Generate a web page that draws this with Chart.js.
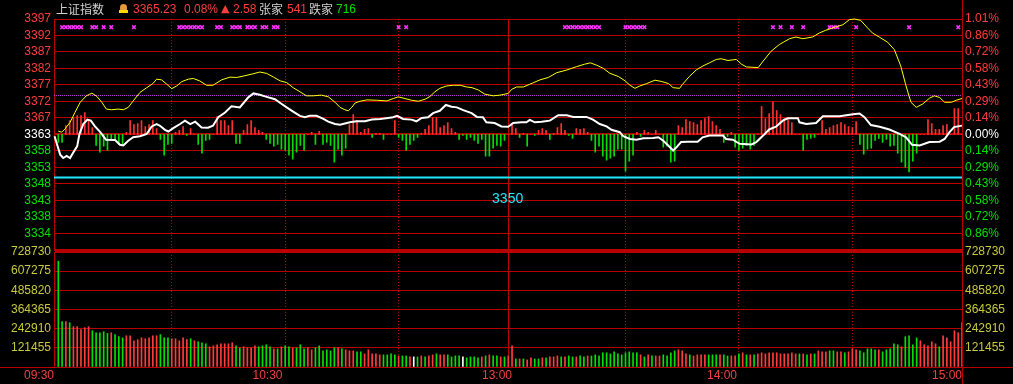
<!DOCTYPE html>
<html lang="zh-CN">
<head>
<meta charset="utf-8">
<title>上证指数 分时</title>
<script src="https://cdn.jsdelivr.net/npm/chart.js@4.4.1/dist/chart.umd.min.js"></script>
<style>
  html, body { margin:0; padding:0; background:#000; }
  #wrap { position:relative; width:1013px; height:384px; overflow:hidden; background:#000; }
  canvas { position:absolute; left:0; display:block; }
  #cTop { top:0; }
  #cVol { top:240px; }
  .hd { position:absolute; top:2px; font-size:12px; line-height:14px; font-family:'Liberation Sans', Arial, sans-serif; white-space:nowrap; }
  .cjk { font-family:'Noto Sans CJK SC', sans-serif; color:#d0d0d0; }
  .up { color:#ff3c3c; }
  .dn { color:#00e000; }
</style>
</head>
<body>
<div id="wrap">
  <canvas id="cTop" width="1013" height="260"></canvas>
  <canvas id="cVol" width="1013" height="144"></canvas>
  <div class="hd cjk" style="left:56px">上证指数</div>
  <div style="position:absolute;left:120px;top:4px;width:7px;height:6px;background:#e89a3a;border-radius:4px 4px 1px 1px"></div>
  <div style="position:absolute;left:119px;top:10px;width:9px;height:3px;background:#ffd800"></div>
  <div class="hd up" style="left:133px">3365.23</div>
  <div class="hd up" style="left:184px">0.08%</div>
  <div class="hd up" style="left:221px;font-family:'DejaVu Sans',sans-serif;font-size:11px">▲</div>
  <div class="hd up" style="left:233px">2.58</div>
  <div class="hd cjk" style="left:259px">张家</div>
  <div class="hd up" style="left:287px">541</div>
  <div class="hd cjk" style="left:309px">跌家</div>
  <div class="hd dn" style="left:336px">716</div>
</div>
<script>
// ---------------- DATA ----------------
const PREV_CLOSE = 3362.65;      // previous close (centre line)
const PRICE_STEP = 4.85;         // price between grid lines
const REF_LEVEL = 3350;          // cyan reference line
const AVG_LEVEL = 3374.1;        // magenta dotted line

// left price tick labels, top -> bottom
const priceTickLabels = ['3397','3392','3387','3382','3377','3372','3367','3363','3358','3353','3348','3343','3338','3334',''];
// right percent tick labels, top -> bottom
const pctTickLabels = ['1.01%','0.86%','0.72%','0.58%','0.43%','0.29%','0.14%','0.00%','0.14%','0.29%','0.43%','0.58%','0.72%','0.86%',''];
// volume tick labels, top -> bottom
const volTickLabels = ['728730','607275','485820','364365','242910','121455',''];
const VOL_STEP = 121455;

// time axis (minute index 0..239)
const timeLabels = ['09:30','10:30','13:00','14:00','15:00'];
const timeLabelPos = [-1.14, 59.3, 120, 179.5, 239];
const gridMinutes = [30, 60, 90, 119.1, 150, 180, 210];
const SOLID_MINUTE = 119.1;

// index (white) line: [minute, price]
const whiteLine = [[-1,3362.1],[0.5,3356.7],[1.3,3355.7],[2.2,3356.3],[3.1,3355.7],[4,3357.4],[5,3359.2],[5.6,3362.8],[6.6,3365.7],[7.7,3367.0],[8.6,3366.7],[9.7,3365.0],[11.1,3363.3],[12.6,3361.1],[15,3361.0],[16.3,3359.6],[17.2,3359.4],[18.5,3360.8],[19.8,3361.8],[21.6,3362.1],[23.4,3362.8],[24.7,3365.0],[26,3365.7],[26.9,3365.2],[28.2,3364.0],[29.1,3363.5],[30.4,3364.5],[32.2,3365.7],[33.5,3366.7],[34.9,3365.7],[36.2,3366.4],[37.9,3364.7],[39.6,3364.6],[40.9,3365.2],[42.3,3367.7],[44.1,3369.1],[45.8,3370.9],[48,3370.6],[50.2,3373.5],[51.6,3374.7],[53.3,3374.3],[55.1,3373.7],[57.3,3373.0],[58.7,3371.9],[60.4,3370.6],[62.2,3369.3],[63.9,3368.1],[65.2,3367.7],[66.5,3368.1],[68.3,3368.1],[70.1,3367.2],[71.4,3366.4],[73.2,3365.7],[74.5,3365.5],[77.1,3366.2],[78.9,3366.5],[81.1,3366.5],[82.9,3367.0],[85.1,3367.2],[87.2,3367.5],[88.5,3367.7],[89.6,3368.1],[91.2,3367.2],[93.4,3367.0],[94.7,3366.5],[96.1,3367.5],[97.8,3367.7],[99.1,3368.9],[100.9,3369.6],[102.5,3371.3],[104,3370.8],[105.4,3370.6],[107.1,3369.8],[109.3,3368.9],[110.7,3367.8],[112.3,3367.7],[113.2,3366.2],[115.4,3366.0],[117.2,3365.0],[119,3364.9],[120.3,3366.0],[122.5,3366.2],[123.8,3366.2],[124.7,3366.9],[126,3366.2],[127.8,3366.4],[130,3366.7],[132.2,3368.3],[134.5,3368.3],[136.2,3367.8],[139.7,3367.8],[141.4,3367.0],[143.2,3365.7],[145,3365.0],[146.3,3364.0],[148.5,3363.3],[149.4,3362.1],[151.2,3361.3],[152.9,3361.1],[154.7,3361.5],[157.3,3361.6],[158.7,3361.8],[160,3360.8],[161.3,3359.4],[162.6,3357.9],[163.6,3359.0],[164.7,3360.4],[166.5,3360.5],[169.1,3360.5],[170.4,3361.8],[172.2,3362.3],[175.8,3362.3],[176.6,3361.3],[178.4,3361.1],[180.2,3359.9],[183.3,3359.7],[184.6,3360.4],[186.4,3362.3],[188,3364.1],[189.8,3364.9],[191.6,3366.7],[192.9,3367.4],[195.6,3367.4],[196,3366.2],[197.8,3365.7],[200.4,3366.0],[202.2,3368.0],[206.6,3368.0],[208.4,3368.3],[210.2,3368.6],[211.9,3368.8],[213.2,3367.7],[214.9,3365.4],[217.2,3364.9],[219.8,3364.1],[222.5,3362.8],[224.2,3361.8],[225.8,3359.6],[227.8,3359.4],[230.4,3360.4],[233.1,3360.5],[234.4,3361.3],[235.7,3363.3],[236.9,3364.8],[239,3365.23]];

// unweighted average (yellow) line: [minute, price]
const yellowLine = [[0,3363.6],[0.9,3363.3],[1.8,3364.3],[3.1,3366.2],[4.4,3369.1],[5.8,3372.1],[7.4,3374.0],[8.9,3374.8],[10.2,3373.8],[11.5,3372.1],[12.7,3370.1],[14.1,3369.9],[15.8,3370.1],[17.2,3369.9],[18.5,3370.6],[19.8,3372.5],[21.6,3375.0],[23.4,3376.4],[25,3377.6],[26,3378.9],[27.3,3378.7],[28.7,3377.4],[30,3376.1],[31.3,3376.9],[32.7,3378.2],[34.4,3378.9],[35.7,3379.1],[37.4,3378.4],[39.2,3377.1],[40.9,3377.1],[43.2,3378.7],[45.4,3379.5],[47.2,3379.4],[48.9,3379.8],[51.6,3380.5],[53.3,3381.0],[55.1,3380.6],[56.9,3379.5],[58.7,3378.4],[60.4,3377.9],[62.1,3376.4],[63.9,3375.2],[65.6,3374.0],[67.4,3374.0],[69.6,3374.2],[71.4,3373.7],[73.2,3372.1],[74.5,3370.6],[75.8,3369.9],[76.7,3369.6],[77.6,3370.6],[78.5,3371.9],[79.8,3372.4],[81.6,3372.8],[84.2,3372.7],[86.9,3372.5],[88.6,3373.2],[89.9,3373.7],[91.7,3373.2],[93.4,3372.7],[95.2,3372.4],[97,3373.0],[98.3,3373.8],[99.6,3375.2],[100.9,3376.2],[102.7,3376.9],[104.5,3377.1],[106.3,3377.1],[108,3376.6],[109.4,3376.4],[111.1,3375.7],[112.8,3374.5],[115,3374.0],[116.8,3374.2],[119,3374.7],[119.9,3375.9],[121.2,3376.6],[123,3376.6],[124.7,3377.4],[127.4,3378.7],[129.6,3379.4],[131.8,3380.8],[134.5,3381.6],[137.1,3382.6],[139.2,3383.3],[140.7,3383.7],[142.4,3383.0],[144.1,3382.1],[145.9,3380.6],[148.1,3379.7],[149.9,3378.4],[151.2,3377.1],[152.5,3376.2],[153.8,3376.9],[155.6,3377.6],[157.8,3378.6],[159.6,3378.2],[161.4,3377.6],[162.6,3376.4],[164.3,3376.2],[165.1,3377.4],[166.9,3379.7],[168.7,3381.6],[170.5,3382.8],[172.2,3383.7],[174,3384.7],[175.3,3384.9],[177.1,3384.4],[179.3,3384.7],[180.7,3383.3],[182,3382.5],[185.1,3382.3],[186.4,3384.2],[188.5,3387.1],[190.7,3389.1],[193.4,3390.8],[195.1,3391.3],[196.9,3390.8],[199.5,3391.3],[201.3,3392.5],[203,3393.3],[205.7,3394.3],[207.5,3394.9],[209.2,3396.4],[210.6,3396.6],[212.2,3396.2],[214,3394.0],[215.3,3392.5],[217.1,3391.3],[219.3,3389.8],[221.1,3387.6],[222.8,3382.8],[224.2,3376.9],[225.5,3372.1],[226.9,3370.6],[228.6,3371.6],[230.4,3373.3],[231.7,3374.0],[233.1,3373.5],[234.4,3372.1],[236.2,3372.1],[237.5,3372.7],[239,3373.2]];

// buy/sell power sticks around the centre line (one per minute, + up red, - down green)
const power = [
  -8,-8,9,14,17,19,19,22,14,7,
  -11,-18,-12,-16,-5,-5,-10,-10,2,14,
  10,11,14,8,10,14,6,-5,-21,-10,
  -9,2,4,8,-1,6,0,-10,-19,-6,
  -5,0,18,14,14,9,14,-9,-9,4,
  10,14,7,4,2,-5,-9,-12,-10,-15,
  -16,-21,-25,-18,-11,-16,0,2,-10,3,
  -10,-8,-11,-28,-15,-21,-14,10,20,14,
  2,5,6,-3,1,1,-5,0,0,14,
  -3,-6,-16,-10,-6,-3,1,5,9,17,
  17,7,9,12,6,2,-5,-1,-5,-3,
  -6,-9,-5,-22,-22,-14,-11,-12,-6,0,
  10,6,-3,1,-12,0,-1,4,6,4,
  -5,1,7,11,4,-1,-4,6,5,6,
  2,-6,-18,-12,-22,-26,-24,-22,-15,-15,
  -37,-27,-21,2,-2,4,2,0,4,0,
  -13,-12,-28,-27,9,7,15,13,12,10,
  14,16,18,13,9,5,-8,-2,2,-13,
  -16,-14,-11,-15,-11,0,28,16,21,33,
  24,20,16,15,12,0,0,-16,-5,-4,
  -3,0,14,5,7,9,10,12,10,8,
  7,13,-10,-20,-15,-14,-6,-4,-8,-5,
  -12,-11,-19,-28,-33,-38,-27,-19,0,0,
  15,11,5,5,9,10,0,26,26,0
];

// minute volume, thousands of lots (one per minute)
const volumeK = [
  670,288,288,281,256,256,237,249,256,230,
  217,217,224,213,217,205,192,185,198,198,
  166,173,185,179,185,198,198,205,185,185,
  179,179,166,185,173,179,166,160,153,147,
  128,134,141,147,147,147,153,134,121,128,
  121,121,134,128,134,141,128,115,115,128,
  134,128,121,121,141,115,121,109,121,134,
  102,109,102,121,121,115,109,102,102,96,
  96,83,109,83,83,77,77,77,83,77,
  70,70,70,64,64,64,70,64,70,77,
  83,77,77,77,64,70,70,64,58,64,
  64,58,64,70,77,70,70,64,64,70,
  134,
  51,51,51,45,58,51,51,58,58,64,
  64,70,64,64,70,64,64,70,64,70,
  70,77,70,90,90,83,96,83,77,90,
  96,90,90,77,64,77,70,70,70,77,
  70,90,102,109,102,83,77,70,77,77,
  77,77,77,77,77,77,70,70,70,83,90,
  77,77,77,83,90,83,90,90,90,83,
  83,83,90,83,83,83,77,83,83,102,
  96,96,102,102,96,96,90,96,115,109,
  102,90,115,115,109,109,96,109,115,147,
  141,128,192,198,141,185,166,141,134,160,
  147,128,198,185,160,230,217,281
];
// minute direction: r = up, g = down, w = unchanged
const volumeDir = (
  'ggrgrrrrrg' + 'ggggrgggrr' + 'rrrrrrrggg' + 'rrrrrgrggg' + 'rrrrrrrggr' +
  'rrrggggrgr' + 'ggrgggrrgg' + 'ggggrgrrrg' + 'grrrrrgggg' + 'rggrwgrgrr' +
  'grrggggwgg' + 'ggrgrggrgr' + 'r' +
  'grgrrggrgr' + 'rrgrggrggr' + 'gggggggggg' + 'gggrgrgrrg' + 'gggrrrgrrr' +
  'rgggrggrrgr' +
  'grgrrrrrrr' + 'rrrrgrgrgr' + 'rrggrrgrrr' + 'gggggrgggg' + 'grggggrrrr' +
  'rgrrrrrr'
).split('');

// minutes flagged with magenta markers on the top row
const markerMinutes = [1,2,3,4,5,6,9,10,12,14,20,32,33,34,35,36,37,38,42,43,46,47,48,50,51,52,54,55,57,58,90,92,
  134,135,136,137,138,139,140,141,142,143,150,151,152,153,154,155,189,191,194,197,204,205,206,211,225,238];

// ---------------- STYLE ----------------
const FONT = "'Liberation Sans', Arial, sans-serif";
const RED = '#ff3c3c', GREEN = '#00e000', WHITE = '#ffffff';
const GRID = '#b80000';
const X_MIN = -1.14, X_MAX = 239;
const MARK_PRICE = 3394.2;
Chart.defaults.font.family = FONT;
Chart.defaults.font.size = 12;

const PRICE_MIN = PREV_CLOSE - 7 * PRICE_STEP;
const PRICE_MAX = PREV_CLOSE + 7 * PRICE_STEP;
const priceTickValues = priceTickLabels.map((_, i) => PREV_CLOSE + (7 - i) * PRICE_STEP).reverse(); // ascending
const volTickValues = volTickLabels.map((_, i) => (6 - i) * VOL_STEP).reverse(); // ascending
const VOL_MAX = volTickValues[volTickValues.length - 1];
const colorFor = d => d === 'r' ? RED : (d === 'g' ? GREEN : WHITE);
const signColor = v => Math.abs(v - PREV_CLOSE) < 1e-6 ? WHITE : (v > PREV_CLOSE ? RED : GREEN);

const edgePlugin = {
  id: 'edges',
  afterDraw(chart, args, opts) {
    const c = chart.ctx, a = chart.chartArea;
    c.save();
    c.strokeStyle = GRID; c.lineWidth = 1;
    const x = Math.round(a.right) + 0.5;
    c.beginPath(); c.moveTo(x, 0); c.lineTo(x, chart.height); c.stroke();
    if (opts.bottomLine) {
      const y = Math.round(a.bottom) + 0.5;
      c.beginPath(); c.moveTo(0, y); c.lineTo(chart.width, y); c.stroke();
    }
    if (opts.refLabel) {
      const xs = chart.scales.x, ys = chart.scales.y;
      c.fillStyle = '#20e8ff';
      c.font = '14px ' + FONT;
      c.textAlign = 'center'; c.textBaseline = 'middle';
      c.fillText(String(REF_LEVEL), xs.getPixelForValue(SOLID_MINUTE) - 1, ys.getPixelForValue(REF_LEVEL) + 22);
    }
    c.restore();
  }
};

const isGridMinute = v => gridMinutes.some(p => Math.abs(p - v) < 1e-6);
const xBorder = {
  display: false,
  dash: ctx => (ctx.tick && Math.abs(ctx.tick.value - SOLID_MINUTE) < 1e-6) ? [] : [1, 2]
};
const xGrid = {
  offset: false, drawTicks: false, lineWidth: 1,
  color: ctx => (ctx.tick && isGridMinute(ctx.tick.value)) ? '#c00000' : 'rgba(0,0,0,0)'
};

// ---------------- PRICE PANEL ----------------
new Chart(document.getElementById('cTop'), {
  type: 'line',
  data: {
    datasets: [
      { type: 'line', data: whiteLine.map(p => ({ x: p[0], y: p[1] })), borderColor: WHITE, borderWidth: 2,
        pointRadius: 0, yAxisID: 'y', order: 0, clip: false },
      { type: 'line', data: yellowLine.map(p => ({ x: p[0], y: p[1] })), borderColor: '#ffff00', borderWidth: 1,
        pointRadius: 0, yAxisID: 'y', order: 1, clip: false },
      { type: 'scatter', data: markerMinutes.map(m => ({ x: m, y: MARK_PRICE })), pointStyle: 'crossRot',
        pointRadius: 2.5, borderColor: '#ff30ff', backgroundColor: '#ff30ff', pointBorderWidth: 1.5, yAxisID: 'y', order: 2 },
      { type: 'line', data: [{ x: X_MIN, y: AVG_LEVEL }, { x: X_MAX, y: AVG_LEVEL }], borderColor: '#b040e0',
        borderWidth: 1, borderDash: [1, 1], pointRadius: 0, yAxisID: 'y', order: 3 },
      { type: 'line', data: [{ x: X_MIN, y: REF_LEVEL }, { x: X_MAX, y: REF_LEVEL }], borderColor: '#20e8ff',
        borderWidth: 2, pointRadius: 0, yAxisID: 'y', order: 4 },
      { type: 'bar', data: power.map((v, i) => ({ x: i, y: [0, v] })), backgroundColor: power.map(v => v >= 0 ? '#ff3030' : '#00dd00'),
        borderWidth: 0, barThickness: 1, yAxisID: 'ys', order: 5 }
    ]
  },
  options: {
    responsive: false, animation: false, events: [],
    layout: { padding: { top: 19, bottom: 8, left: 0, right: 0 } },
    plugins: { legend: { display: false }, tooltip: { enabled: false }, edges: { refLabel: true } },
    scales: {
      x: {
        type: 'linear', min: X_MIN, max: X_MAX, offset: false,
        afterBuildTicks: s => { s.ticks = gridMinutes.map(v => ({ value: v })); },
        afterFit: s => { s.height = 0; },
        ticks: { display: false },
        grid: xGrid, border: xBorder
      },
      y: {
        position: 'left', min: PRICE_MIN, max: PRICE_MAX,
        afterBuildTicks: s => { s.ticks = priceTickValues.map(v => ({ value: v })); },
        afterFit: s => { s.width = 54; },
        ticks: {
          autoSkip: false, padding: 3,
          callback: (v, i) => priceTickLabels[priceTickLabels.length - 1 - i],
          color: ctx => signColor(ctx.tick.value)
        },
        grid: {
          color: GRID, drawTicks: false, offset: false,
          lineWidth: ctx => (ctx.tick && (Math.abs(ctx.tick.value - PREV_CLOSE) < 1e-6 || Math.abs(ctx.tick.value - PRICE_MIN) < 1e-6)) ? 2 : 1
        },
        border: { color: GRID, width: 1 }
      },
      yr: {
        position: 'right', min: PRICE_MIN, max: PRICE_MAX,
        afterBuildTicks: s => { s.ticks = priceTickValues.map(v => ({ value: v })); },
        afterFit: s => { s.width = 51; },
        ticks: {
          autoSkip: false, padding: 3,
          callback: (v, i) => pctTickLabels[pctTickLabels.length - 1 - i],
          color: ctx => signColor(ctx.tick.value)
        },
        grid: { display: false, drawTicks: false },
        border: { display: false }
      },
      ys: { display: false, min: -116.5, max: 116.5 }
    }
  },
  plugins: [edgePlugin]
});

// ---------------- VOLUME PANEL ----------------
const xTickValues = gridMinutes.concat(timeLabelPos).sort((a, b) => a - b);
new Chart(document.getElementById('cVol'), {
  type: 'bar',
  data: {
    datasets: [
      { type: 'bar', data: volumeK.map((v, i) => ({ x: i, y: v * 1000 })), backgroundColor: volumeDir.map(colorFor),
        borderWidth: 0, barThickness: 1, yAxisID: 'yv' }
    ]
  },
  options: {
    responsive: false, animation: false, events: [],
    layout: { padding: { top: 12, bottom: 0, left: 0, right: 0 } },
    plugins: { legend: { display: false }, tooltip: { enabled: false }, edges: { bottomLine: true } },
    scales: {
      x: {
        type: 'linear', position: 'bottom', min: X_MIN, max: X_MAX, offset: false,
        afterBuildTicks: s => { s.ticks = xTickValues.map(v => ({ value: v })); },
        afterFit: s => { s.height = 17; },
        ticks: {
          autoSkip: false, maxRotation: 0, minRotation: 0, align: 'end', padding: 1, color: '#f04040',
          callback: (v) => { const k = timeLabelPos.findIndex(p => Math.abs(p - v) < 1e-6); return k >= 0 ? timeLabels[k] : ''; }
        },
        grid: xGrid,
        border: xBorder
      },
      yv: {
        position: 'left', min: 0, max: VOL_MAX,
        afterBuildTicks: s => { s.ticks = volTickValues.map(v => ({ value: v })); },
        afterFit: s => { s.width = 54; },
        ticks: { autoSkip: false, padding: 3, color: '#c8c83c',
          callback: (v, i) => volTickLabels[volTickLabels.length - 1 - i] },
        grid: { color: GRID, drawTicks: false, offset: false, lineWidth: ctx => (ctx.tick && ctx.tick.value === VOL_MAX) ? 2 : 1 },
        border: { color: GRID, width: 1 }
      },
      yvr: {
        position: 'right', min: 0, max: VOL_MAX,
        afterBuildTicks: s => { s.ticks = volTickValues.map(v => ({ value: v })); },
        afterFit: s => { s.width = 51; },
        ticks: { autoSkip: false, padding: 3, color: '#c8c83c',
          callback: (v, i) => volTickLabels[volTickLabels.length - 1 - i] },
        grid: { display: false, drawTicks: false },
        border: { display: false }
      }
    }
  },
  plugins: [edgePlugin]
});
</script>
</body>
</html>
